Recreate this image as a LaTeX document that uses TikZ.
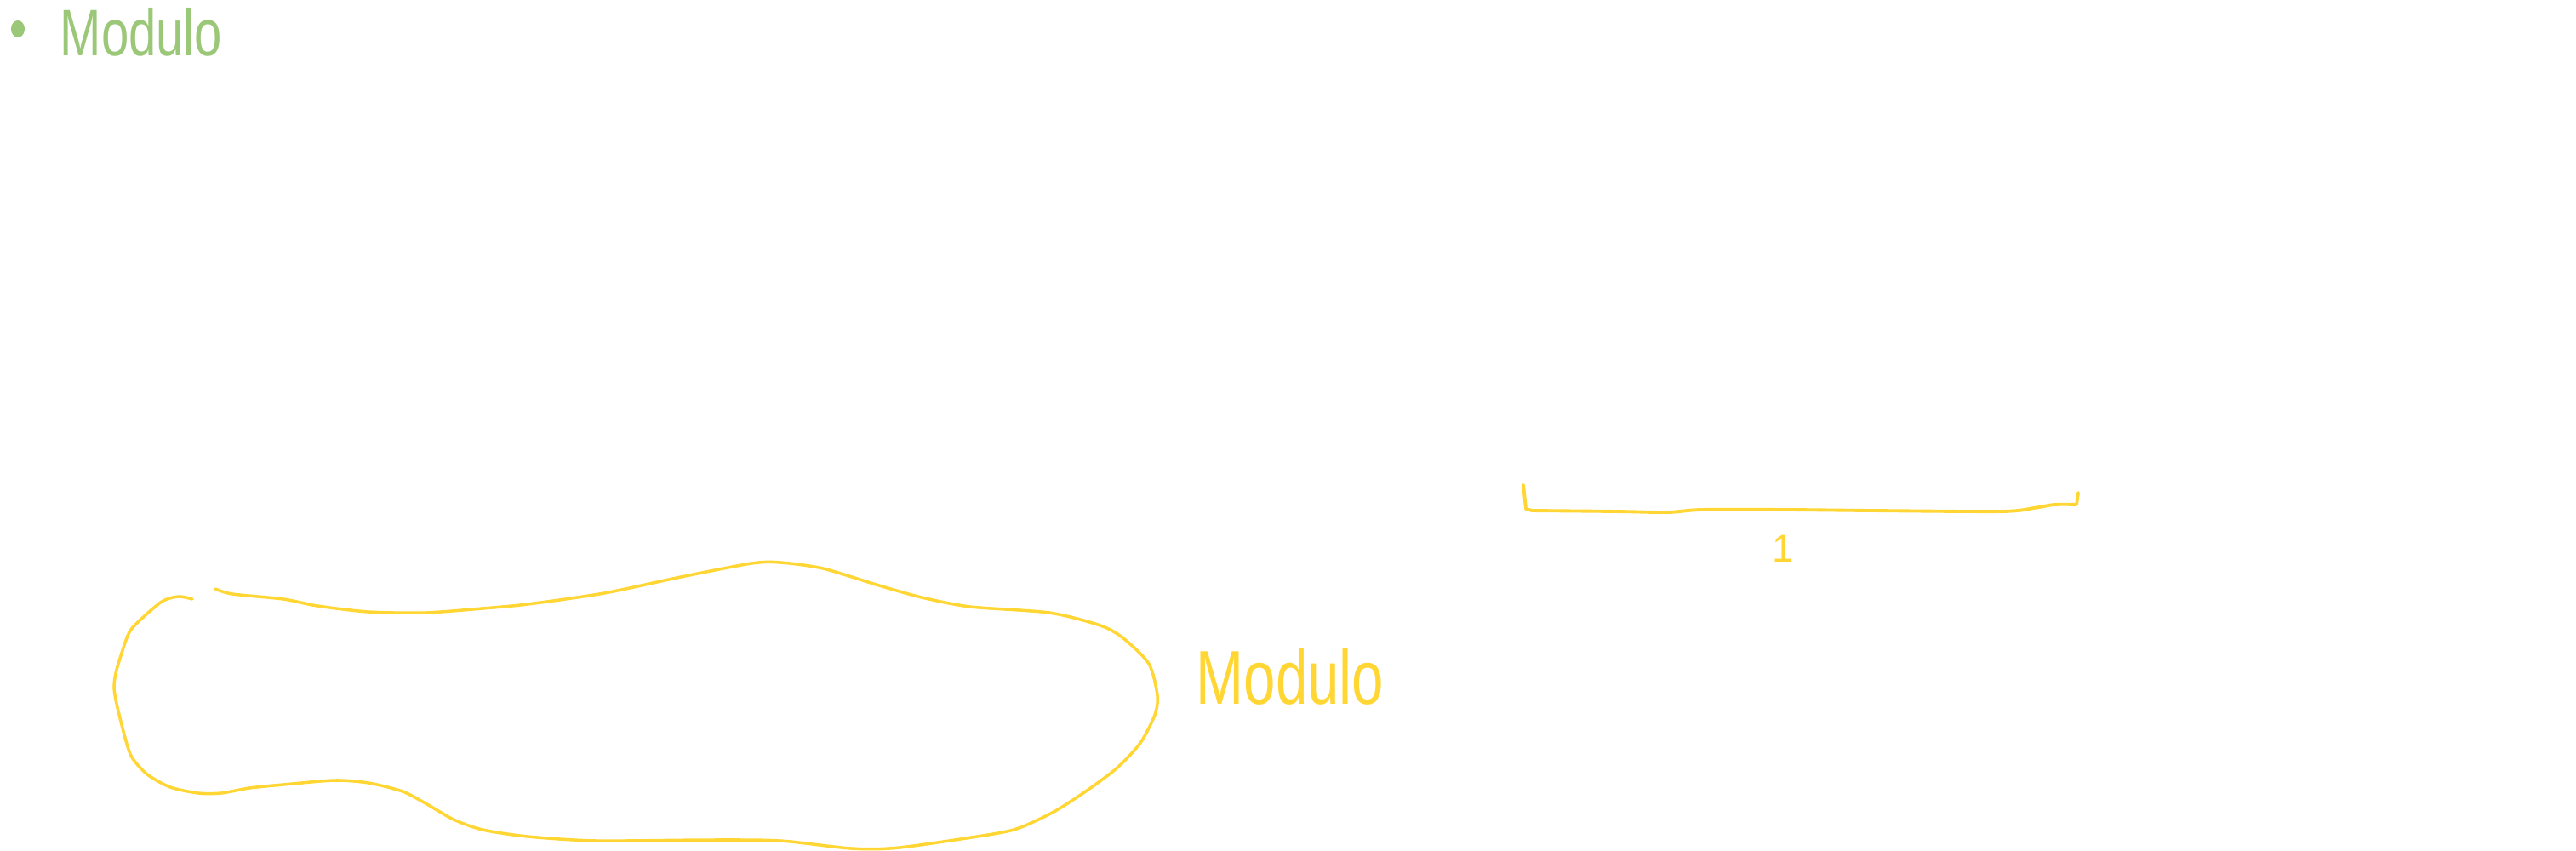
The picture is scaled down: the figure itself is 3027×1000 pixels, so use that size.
\documentclass[tikz,border=0pt]{standalone}
\usepackage{fontspec}
\setmainfont{Liberation Sans}
\usetikzlibrary{positioning}
\definecolor{Leaf}{HTML}{9BC778}
\definecolor{Sun}{HTML}{FFD633}

\begin{document}
\begin{tikzpicture}[x=0.01cm,y=-0.01cm,
        hand/.style={inner sep=0,anchor=base west},
        loop/.style={Sun,line width=1pt,line cap=round,line join=round},
        bracket/.style={Sun,line width=1.1pt,line cap=round,line join=round}
      ]
        \useasboundingbox (0,0) rectangle (3027,1000);
        % green heading
        \fill[Leaf] (21,34) ellipse [x radius=8,y radius=10];
        \node[hand,text=Leaf,font=\fontsize{22}{24}\selectfont] (title) at (70,65) {\scalebox{0.75}[1]{Modulo}};
        % open loop
        \draw[loop] plot[smooth,tension=0.45] coordinates {
          (253,692) (273,698) (333,704) (373,712) (433,719) (500,720) (567,715) (620,710)
          (710,697) (800,678) (883,662) (917,661) (967,668) (1033,688) (1083,702)
          (1140,713) (1233,720) (1293,735) (1320,750) (1350,780) (1360,817) (1357,840)
          (1340,873) (1313,902) (1280,927) (1240,953) (1200,972) (1167,980) (1057,996)
          (1000,997) (917,988) (833,987) (700,988) (620,983) (567,975) (533,963)
          (500,944) (473,930) (433,920) (393,917) (333,922) (293,926) (260,932)
          (233,932) (200,925) (173,910) (155,890) (147,867) (137,827) (134,807)
          (137,787) (150,747) (160,733) (190,707) (210,701) (226,704)};
        \node[hand,text=Sun,font=\fontsize{25.5}{28}\selectfont] (label) at (1405,827) {\scalebox{0.75}[1]{Modulo}};
        % unit bracket
        \coordinate (brL) at (1790,570);
        \coordinate (brR) at (2442,579);
        \coordinate (brmid) at (2095,600);
        \draw[bracket] (brL) -- (1793,598) -- plot[smooth,tension=0.5] coordinates {
          (1800,600) (1900,601) (1960,602) (2000,599) (2100,599) (2200,600)
          (2351,601) (2390,597) (2414,593) (2440,593)} -- (brR);
        \node[inner sep=0,anchor=north,text=Sun,font=\fontsize{13}{15}\selectfont,below=0.28cm of brmid] (unit) {1};
      \end{tikzpicture}
\end{document}
